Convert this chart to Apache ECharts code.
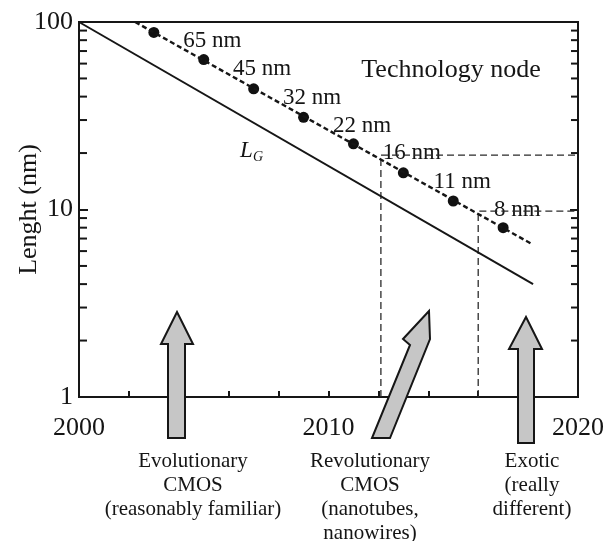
<!DOCTYPE html>
<html>
<head>
<meta charset="utf-8">
<script src="https://cdn.jsdelivr.net/npm/echarts@6/dist/echarts.min.js"></script>
<style>
  html, body { margin: 0; padding: 0; background: #fff; }
  #chart { width: 613px; height: 541px; }
</style>
</head>
<body>
<div id="chart"></div>
<script>
// 坐标轴标签
var yearLabels = [2000, 2010, 2020];
var minorTicks = [2, 3, 4, 5, 6, 7, 8, 9, 20, 30, 40, 50, 60, 70, 80, 90];
// 栅长 LG 直线
var lgLine = [[2000, 100], [2018.2, 4.0]];
// 技术节点趋势虚线
var nodeLine = [[2002.25, 100], [2018.1, 6.6]];
// 技术节点
var nodeYears = [2003, 2005, 2007, 2009, 2011, 2013, 2015, 2017];
var nodeValues = [88, 63, 44, 31, 22.4, 15.7, 11.1, 8];
var nodeNames = ['65 nm', '45 nm', '32 nm', '22 nm', '16 nm', '11 nm', '8 nm', ''];
// 参考虚线
var guide16 = [[2012.1, 1], [2012.1, 19.5], [2020, 19.5]];
var guide8 = [[2016, 1], [2016, 9.8], [2020, 9.8]];

var serif = 'Liberation Serif';
var ink = '#161616';
var textInk = '#151515';

var myEchart = echarts.init(document.getElementById('chart'));

function arrow(points) {
    return {
        type: 'polygon',
        z: 100,
        shape: { points: points },
        style: { fill: '#c6c6c6', stroke: ink, lineWidth: 2 }
    };
}

function label(x, y, text, size, extra) {
    var st = {
        text: text,
        font: (extra && extra.italic ? 'italic ' : '') + size + 'px ' + serif,
        fill: textInk,
        align: (extra && extra.align) || 'center',
        textAlign: (extra && extra.align) || 'center',
        verticalAlign: 'top',
        textVerticalAlign: 'top',
        lineHeight: (extra && extra.lineHeight) || size
    };
    return { type: 'text', x: x, y: y, z: 100, style: st };
}

var axisLine = { show: true, lineStyle: { color: ink, width: 2 } };

var options = {
    animation: false,
    grid: {
        left: 79, right: 35, top: 22, bottom: 144,
        outerBoundsMode: 'none',
        containLabel: false,
        show: true, borderColor: ink, borderWidth: 2
    },
    xAxis: {
        type: 'value',
        min: 2000, max: 2020, interval: 2,
        axisLine: axisLine,
        splitLine: { show: false },
        axisTick: { inside: true, length: 6, lineStyle: { color: ink, width: 2 } },
        axisLabel: {
            margin: 18,
            fontSize: 26, fontFamily: serif, color: textInk,
            formatter: function (v) { return yearLabels.indexOf(v) >= 0 ? String(v) : ''; }
        }
    },
    yAxis: [{
        type: 'log', logBase: 10, min: 1, max: 100,
        name: 'Lenght (nm)',
        nameLocation: 'middle',
        nameGap: 37,
        nameMoveOverlap: false,
        nameTextStyle: { fontSize: 26, fontFamily: serif, color: textInk },
        axisLine: axisLine,
        splitLine: { show: false },
        axisTick: { inside: true, length: 9, lineStyle: { color: ink, width: 2 } },
        axisLabel: { margin: 6, fontSize: 26, fontFamily: serif, color: textInk }
    }, {
        type: 'log', logBase: 10, min: 1, max: 100,
        position: 'right',
        axisLine: axisLine,
        splitLine: { show: false },
        axisTick: { inside: true, length: 8, lineStyle: { color: ink, width: 2 } },
        axisLabel: { show: false }
    }],
    series: [{
        // 对数轴次刻度（左右两侧）
        type: 'custom',
        silent: true,
        data: minorTicks.map(function (v) { return [2000, v]; }),
        renderItem: function (params, api) {
            var v = api.value(1);
            var l = api.coord([2000, v]);
            var r = api.coord([2020, v]);
            var st = { stroke: ink, lineWidth: 2 };
            return {
                type: 'group',
                children: [
                    { type: 'line', shape: { x1: l[0], y1: l[1], x2: l[0] + 8, y2: l[1] }, style: st },
                    { type: 'line', shape: { x1: r[0] - 7, y1: r[1], x2: r[0], y2: r[1] }, style: st }
                ]
            };
        }
    }, {
        type: 'line',
        data: guide16,
        symbol: 'none',
        lineStyle: { color: '#2a2a2a', width: 1.3, type: [7, 4] }
    }, {
        type: 'line',
        data: guide8,
        symbol: 'none',
        lineStyle: { color: '#2a2a2a', width: 1.3, type: [7, 4] }
    }, {
        type: 'line',
        data: lgLine,
        symbol: 'none',
        lineStyle: { color: ink, width: 2 }
    }, {
        type: 'line',
        data: nodeLine,
        symbol: 'none',
        lineStyle: { color: ink, width: 2.4, type: [5, 3] }
    }, {
        type: 'scatter',
        symbolSize: 11,
        itemStyle: { color: '#111', opacity: 1 },
        data: nodeYears.map(function (y, i) { return [y, nodeValues[i]]; }),
        label: {
            show: true,
            position: [93, 14.5],
            align: 'right',
            verticalAlign: 'middle',
            fontSize: 23, fontFamily: serif, color: textInk,
            formatter: function (p) { return nodeNames[p.dataIndex]; }
        }
    }],
    graphic: [
        label(451, 57, 'Technology node', 26),
        label(240, 139, 'L', 23, { italic: true, align: 'left' }),
        label(253, 150, 'G', 14, { italic: true, align: 'left' }),
        arrow([[177, 312], [193, 344], [185, 344], [185, 438], [168, 438], [168, 344], [161, 344]]),
        arrow([[429, 311], [430, 339], [390, 438], [372, 438], [410, 345], [403, 339]]),
        arrow([[526, 317], [542, 349], [534, 349], [534, 443], [518, 443], [518, 349], [509, 349]]),
        label(193, 449, 'Evolutionary\nCMOS\n(reasonably familiar)', 21, { lineHeight: 24 }),
        label(370, 449, 'Revolutionary\nCMOS\n(nanotubes,\nnanowires)', 21, { lineHeight: 24 }),
        label(532, 449, 'Exotic\n(really\ndifferent)', 21, { lineHeight: 24 })
    ]
};

myEchart.setOption(options);
window.addEventListener('resize', function () {
    myEchart.resize();
});
</script>
</body>
</html>
